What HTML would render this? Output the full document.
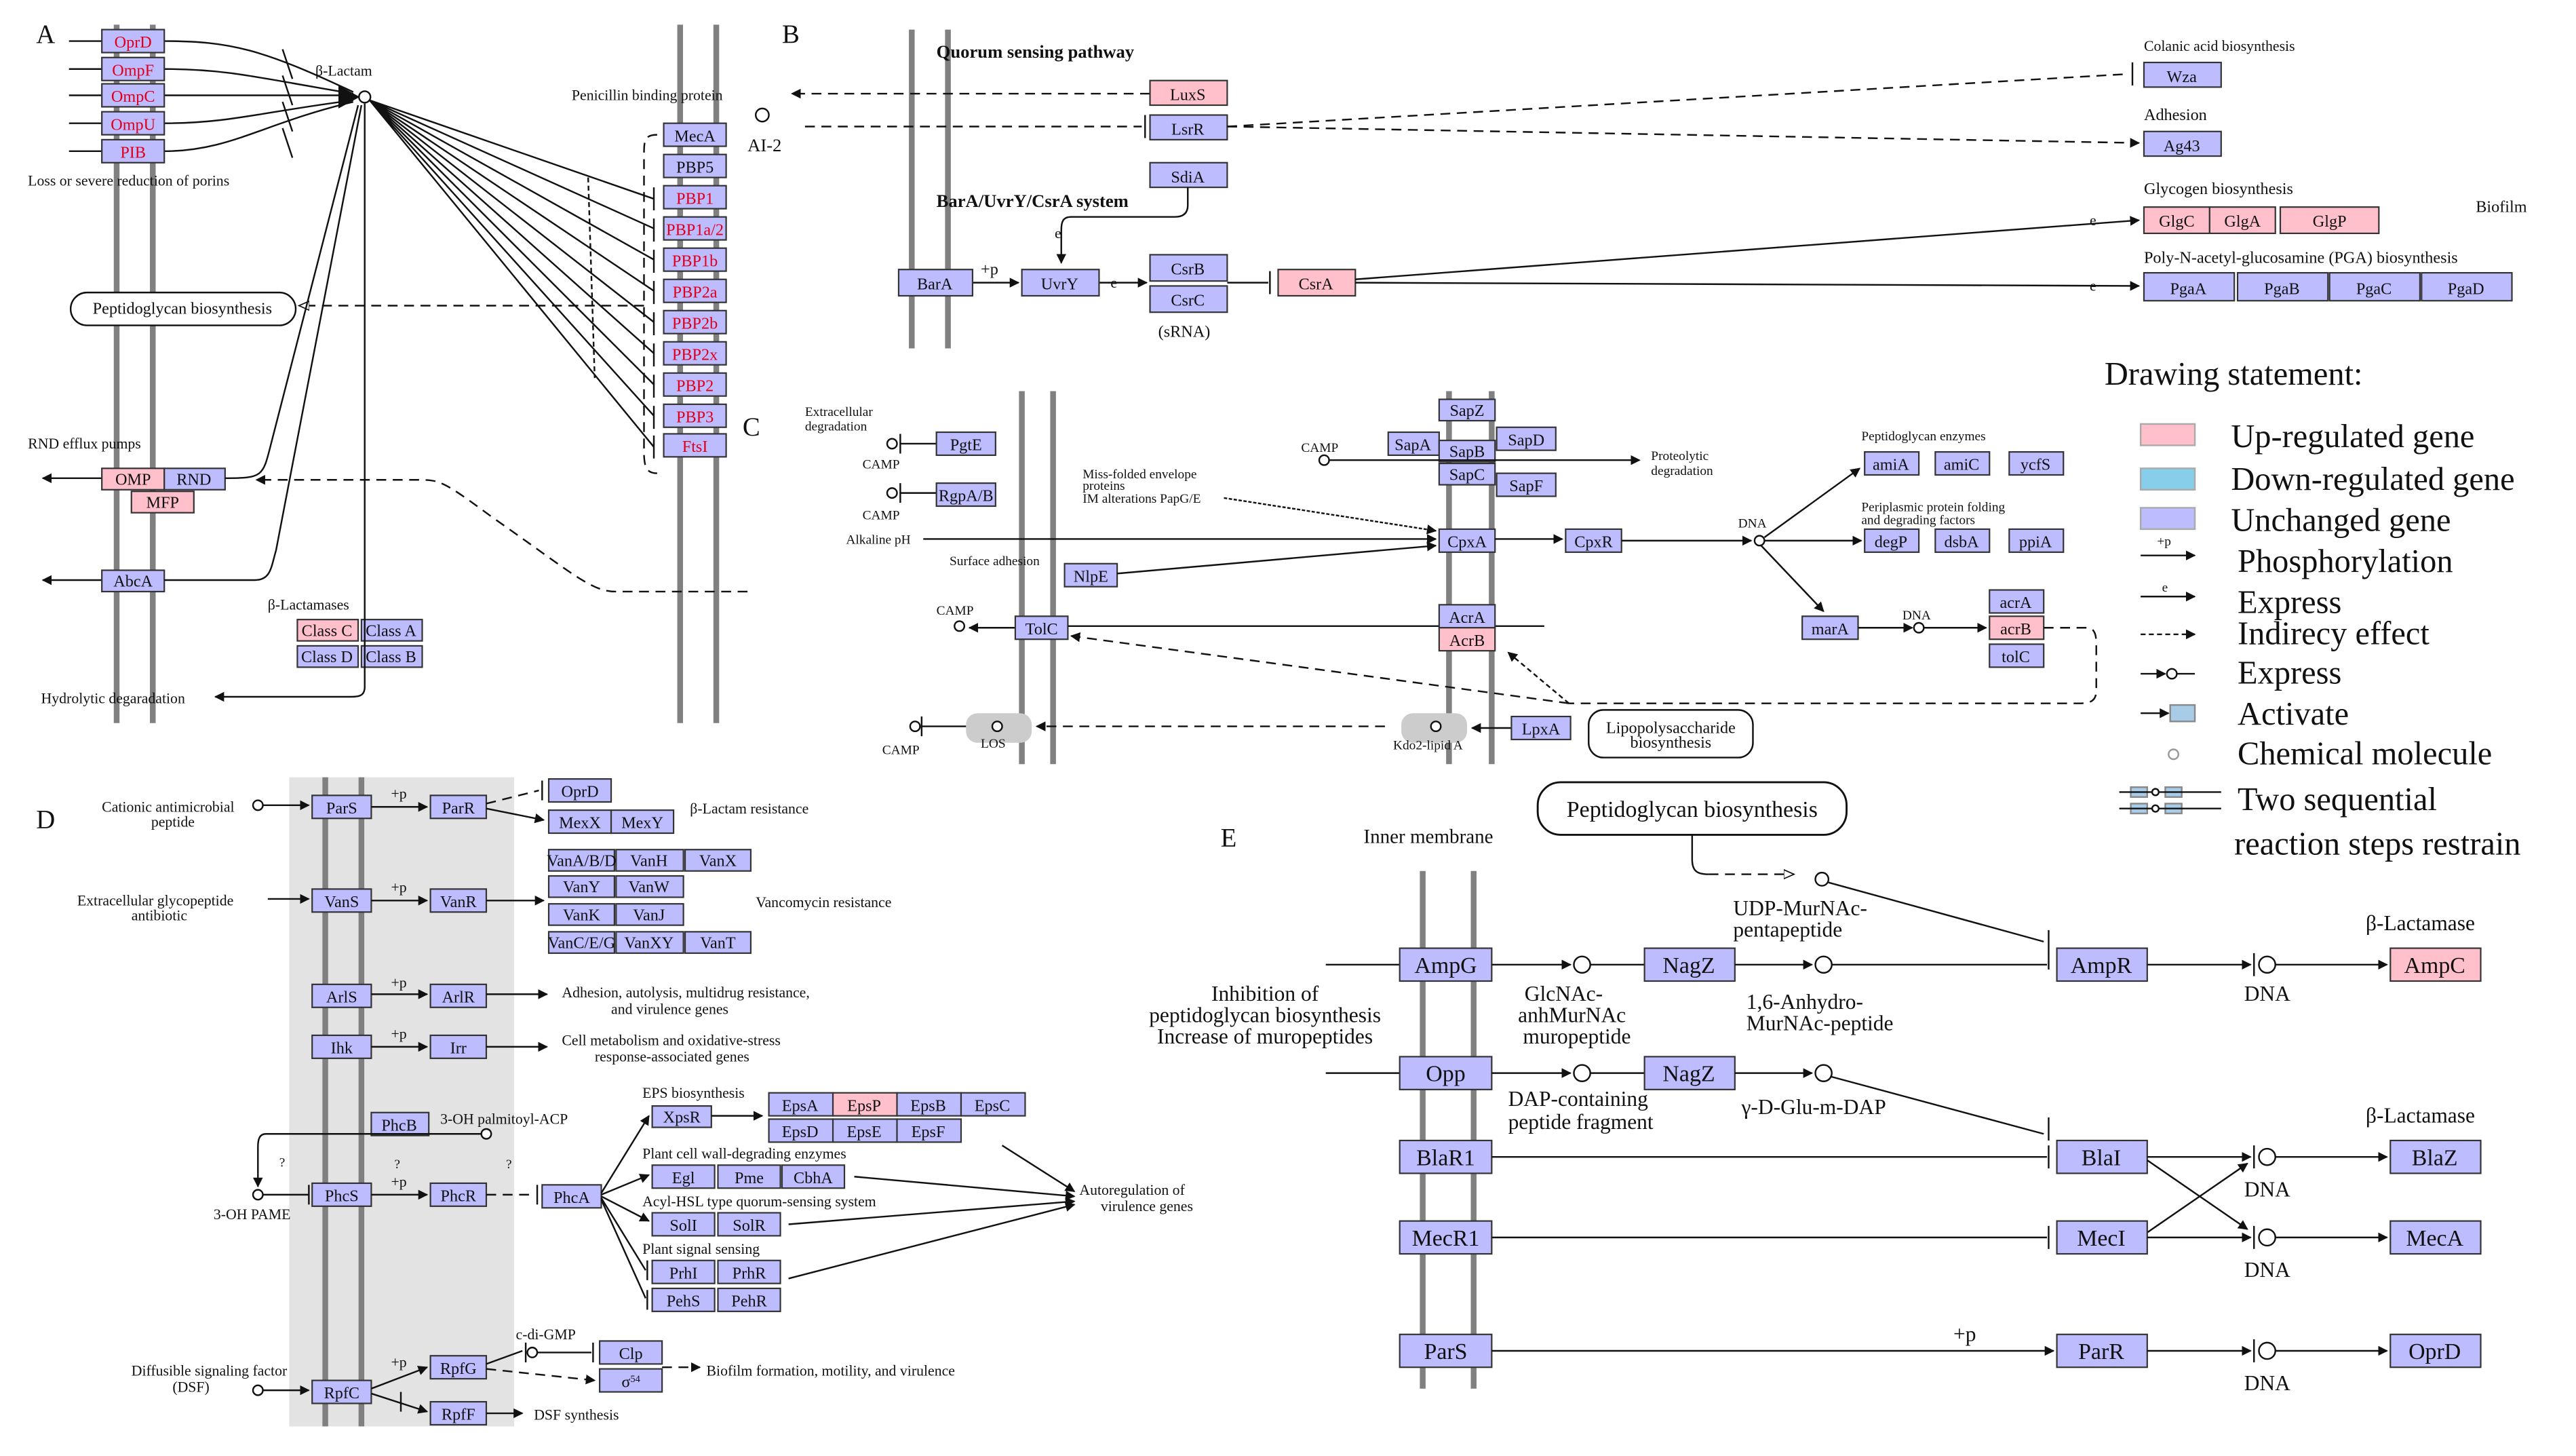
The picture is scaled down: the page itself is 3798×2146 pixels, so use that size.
<!DOCTYPE html>
<html><head><meta charset="utf-8"><style>
html,body{margin:0;padding:0;background:#fff}
svg{display:block}
text{font-family:"Liberation Serif",serif;fill:#111}
.b{fill:#bcbcff;stroke:#333;stroke-width:.9}
.p{fill:#ffc0cb;stroke:#333;stroke-width:.9}
.m{stroke:#808080;stroke-width:3.5;fill:none}
.l{stroke:#111;stroke-width:1;fill:none}
.d{stroke:#111;stroke-width:1;fill:none;stroke-dasharray:6 4}
.t{font-size:10px;text-anchor:middle}
.r{fill:#e0001a}
.s{font-size:9px}
.e{font-size:14px;text-anchor:middle}
.g{font-size:20px}
</style></head><body>
<svg width="3798" height="2146" viewBox="0 0 1568 886" preserveAspectRatio="none" xmlns="http://www.w3.org/2000/svg">
<defs>
<marker id="a" viewBox="0 0 10 10" refX="9" refY="5" markerWidth="6" markerHeight="6" orient="auto-start-reverse"><path d="M0,0L10,5L0,10z" fill="#111"/></marker>
<marker id="o" viewBox="0 0 10 10" refX="9" refY="5" markerWidth="7" markerHeight="7" orient="auto"><path d="M0,1L9,5L0,9z" fill="#fff" stroke="#111"/></marker>
</defs>

<!-- ===== PANEL A ===== -->
<text x="22" y="26" font-size="16">A</text>
<line class="m" x1="71" y1="15" x2="71" y2="440"/><line class="m" x1="93" y1="15" x2="93" y2="440"/>
<line class="m" x1="414" y1="15" x2="414" y2="440"/><line class="m" x1="436" y1="15" x2="436" y2="440"/>
<g class="l">
<path d="M42,25H62M100,25C140,25 160,30 215,56"/>
<path d="M42,42H62M100,42C140,42 160,48 215,57"/>
<path d="M42,58H62M100,58H213"/>
<path d="M42,75H62M100,75C140,75 160,68 215,61"/>
<path d="M42,92H62M100,92C140,92 160,75 215,62"/>
<path d="M172,30l6,18M172,46l6,18M172,62l6,18M172,78l6,18"/>
</g>
<path d="M206,52L219,59L206,66z" fill="#111"/>
<circle cx="222" cy="59" r="3.5" fill="#fff" stroke="#111"/>
<text x="192" y="46" class="s">β-Lactam</text>
<rect class="b" x="62" y="18" width="38" height="14"/><text class="t r" x="81" y="29">OprD</text>
<rect class="b" x="62" y="35" width="38" height="14"/><text class="t r" x="81" y="46">OmpF</text>
<rect class="b" x="62" y="51" width="38" height="14"/><text class="t r" x="81" y="62">OmpC</text>
<rect class="b" x="62" y="68" width="38" height="14"/><text class="t r" x="81" y="79">OmpU</text>
<rect class="b" x="62" y="85" width="38" height="14"/><text class="t r" x="81" y="96">PIB</text>
<text x="17" y="113" class="s">Loss or severe reduction of porins</text>
<text x="348" y="61" class="s">Penicillin binding protein</text>
<path class="d" d="M400,82C392,82 392,86 392,95V275C392,285 394,288 400,288"/>
<g class="l">
<path d="M225,61L398,139M225,61L398,158M225,61L398,177M225,61L398,196M225,61L398,215M225,61L398,234M225,61L398,253M225,61L398,272M225,61L398,121"/>
<path d="M398,114v14M398,133v14M398,152v14M398,171v14M398,190v14M398,209v14M398,228v14M398,247v14M398,265v14"/>
<path d="M358,108l4,122" stroke-dasharray="3 2"/>
</g>
<rect class="b" x="404" y="75" width="38" height="14"/><text class="t" x="423" y="86">MecA</text>
<rect class="b" x="404" y="94" width="38" height="14"/><text class="t" x="423" y="105">PBP5</text>
<rect class="b" x="404" y="113" width="38" height="14"/><text class="t r" x="423" y="124">PBP1</text>
<rect class="b" x="404" y="132" width="38" height="14"/><text class="t r" x="423" y="143">PBP1a/2</text>
<rect class="b" x="404" y="151" width="38" height="14"/><text class="t r" x="423" y="162">PBP1b</text>
<rect class="b" x="404" y="170" width="38" height="14"/><text class="t r" x="423" y="181">PBP2a</text>
<rect class="b" x="404" y="189" width="38" height="14"/><text class="t r" x="423" y="200">PBP2b</text>
<rect class="b" x="404" y="208" width="38" height="14"/><text class="t r" x="423" y="219">PBP2x</text>
<rect class="b" x="404" y="227" width="38" height="14"/><text class="t r" x="423" y="238">PBP2</text>
<rect class="b" x="404" y="246" width="38" height="14"/><text class="t r" x="423" y="257">PBP3</text>
<rect class="b" x="404" y="264" width="38" height="14"/><text class="t r" x="423" y="275">FtsI</text>
<rect x="43" y="178" width="137" height="20" rx="10" fill="#fff" stroke="#111"/>
<text x="111" y="191" class="t" font-size="9">Peptidoglycan biosynthesis</text>
<path class="d" d="M392,186H182" marker-end="url(#o)"/>
<text x="17" y="273" class="s">RND efflux pumps</text>
<path class="l" d="M62,291H26" marker-end="url(#a)"/>
<rect class="p" x="62" y="285" width="38" height="13"/><text class="t" x="81" y="295">OMP</text>
<rect class="b" x="100" y="285" width="37" height="13"/><text class="t" x="118" y="295">RND</text>
<rect class="p" x="80" y="299" width="38" height="13"/><text class="t" x="99" y="309">MFP</text>
<path class="l" d="M137,291C160,291 160,290 165,270L218,64"/>
<path class="l" d="M62,353H26" marker-end="url(#a)"/>
<rect class="b" x="62" y="347" width="38" height="13"/><text class="t" x="81" y="357">AbcA</text>
<path class="l" d="M100,353H155C165,353 165,345 168,335L220,64"/>
<path class="d" d="M455,360H375C360,360 350,350 300,315C270,293 268,292 255,292H156" marker-end="url(#a)"/>
<text x="163" y="371" class="s">β-Lactamases</text>
<rect class="p" x="181" y="377" width="37" height="13"/><text class="t" x="199" y="387">Class C</text>
<rect class="b" x="220" y="377" width="37" height="13"/><text class="t" x="238" y="387">Class A</text>
<rect class="b" x="181" y="393" width="37" height="13"/><text class="t" x="199" y="403">Class D</text>
<rect class="b" x="220" y="393" width="37" height="13"/><text class="t" x="238" y="403">Class B</text>
<path class="l" d="M222,63V418C222,424 218,424 212,424H131" marker-end="url(#a)"/>
<text x="25" y="428" class="s">Hydrolytic degaradation</text>

<!-- ===== PANEL B ===== -->
<text x="476" y="26" font-size="16">B</text>
<line class="m" x1="555" y1="18" x2="555" y2="212"/><line class="m" x1="577" y1="18" x2="577" y2="212"/>
<text x="570" y="35" font-size="11" font-weight="bold">Quorum sensing pathway</text>
<circle cx="464" cy="70" r="4" fill="#fff" stroke="#111"/>
<text x="455" y="92" font-size="11">AI-2</text>
<path class="d" d="M700,57H482" marker-end="url(#a)"/>
<path class="d" d="M490,77H695"/><path class="l" d="M697,70v14"/>
<rect class="p" x="700" y="49" width="47" height="15"/><text class="t" x="723" y="61">LuxS</text>
<rect class="b" x="700" y="70" width="47" height="15"/><text class="t" x="723" y="82">LsrR</text>
<rect class="b" x="700" y="99" width="47" height="15"/><text class="t" x="723" y="111">SdiA</text>
<path class="d" d="M747,77L1296,45"/><path class="l" d="M1298,38v14"/>
<path class="d" d="M747,77L1302,87" marker-end="url(#a)"/>
<text x="1305" y="31" class="s" font-size="10">Colanic acid biosynthesis</text>
<rect class="b" x="1305" y="38" width="47" height="15"/><text class="t" x="1328" y="50">Wza</text>
<text x="1305" y="73" font-size="10">Adhesion</text>
<rect class="b" x="1305" y="80" width="47" height="15"/><text class="t" x="1328" y="92">Ag43</text>
<text x="1305" y="118" font-size="10">Glycogen biosynthesis</text>
<rect class="p" x="1305" y="126" width="40" height="16"/><text class="t" x="1325" y="138">GlgC</text>
<rect class="p" x="1345" y="126" width="40" height="16"/><text class="t" x="1365" y="138">GlgA</text>
<rect class="p" x="1388" y="126" width="60" height="16"/><text class="t" x="1418" y="138">GlgP</text>
<text x="1507" y="129" font-size="10">Biofilm</text>
<text x="1305" y="160" font-size="10">Poly-N-acetyl-glucosamine (PGA) biosynthesis</text>
<rect class="b" x="1305" y="166" width="55" height="17"/><text class="t" x="1332" y="179">PgaA</text>
<rect class="b" x="1362" y="166" width="55" height="17"/><text class="t" x="1389" y="179">PgaB</text>
<rect class="b" x="1418" y="166" width="55" height="17"/><text class="t" x="1445" y="179">PgaC</text>
<rect class="b" x="1474" y="166" width="55" height="17"/><text class="t" x="1501" y="179">PgaD</text>
<text x="570" y="126" font-size="11" font-weight="bold">BarA/UvrY/CsrA system</text>
<path class="l" d="M723,114V125C723,130 720,132 715,132H652C647,132 646,135 646,140V160" marker-end="url(#a)"/>
<text x="642" y="145" font-size="9">e</text>
<path class="l" d="M592,172H620" marker-end="url(#a)"/><text x="597" y="167" font-size="10">+p</text>
<path class="l" d="M669,172H698" marker-end="url(#a)"/><text x="676" y="175" font-size="9">e</text>
<rect class="b" x="547" y="164" width="45" height="16"/><text class="t" x="569" y="176">BarA</text>
<rect class="b" x="622" y="164" width="47" height="16"/><text class="t" x="645" y="176">UvrY</text>
<rect class="b" x="700" y="155" width="47" height="16"/><text class="t" x="723" y="167">CsrB</text>
<rect class="b" x="700" y="174" width="47" height="16"/><text class="t" x="723" y="186">CsrC</text>
<text x="705" y="205" font-size="10">(sRNA)</text>
<path class="l" d="M747,172H772M773,165v14"/>
<rect class="p" x="778" y="164" width="47" height="16"/><text class="t" x="801" y="176">CsrA</text>
<path class="l" d="M825,170L1302,134" marker-end="url(#a)"/><text x="1272" y="137" font-size="9">e</text>
<path class="l" d="M825,172L1302,174" marker-end="url(#a)"/><text x="1272" y="177" font-size="9">e</text>

<!-- Legend -->
<text x="1281" y="234" class="g">Drawing statement:</text>
<rect x="1303" y="258" width="33" height="13" fill="#ffc0cb" stroke="#aaa"/><text x="1358" y="272" class="g">Up-regulated gene</text>
<rect x="1303" y="285" width="33" height="13" fill="#87ceeb" stroke="#aaa"/><text x="1358" y="298" class="g">Down-regulated gene</text>
<rect x="1303" y="309" width="33" height="13" fill="#bcbcff" stroke="#aaa"/><text x="1358" y="323" class="g">Unchanged gene</text>
<text x="1313" y="332" font-size="8">+p</text><path class="l" d="M1303,338H1336" marker-end="url(#a)"/><text x="1362" y="348" class="g">Phosphorylation</text>
<text x="1316" y="360" font-size="8">e</text><path class="l" d="M1303,363H1336" marker-end="url(#a)"/><text x="1362" y="373" class="g">Express</text>
<path class="l" d="M1303,386H1336" stroke-dasharray="3 2" marker-end="url(#a)"/><text x="1362" y="392" class="g">Indirecy effect</text>
<path class="l" d="M1303,410H1318" marker-end="url(#a)"/><circle cx="1322" cy="410" r="3" fill="#fff" stroke="#111"/><path class="l" d="M1325,410H1336"/><text x="1362" y="416" class="g">Express</text>
<path class="l" d="M1303,434H1320" marker-end="url(#a)"/><rect x="1321" y="429" width="15" height="10" fill="#a8cce8" stroke="#888"/><text x="1362" y="441" class="g">Activate</text>
<circle cx="1323" cy="459" r="3" fill="#fff" stroke="#999"/><text x="1362" y="465" class="g">Chemical molecule</text>
<g>
<rect x="1297" y="479" width="10" height="6" fill="#a8cce8" stroke="#888"/><rect x="1318" y="479" width="10" height="6" fill="#a8cce8" stroke="#888"/>
<rect x="1297" y="489" width="10" height="6" fill="#a8cce8" stroke="#888"/><rect x="1318" y="489" width="10" height="6" fill="#a8cce8" stroke="#888"/>
<path class="l" d="M1290,482H1352M1290,492H1352"/><circle cx="1312" cy="482" r="2" fill="#fff" stroke="#111"/><circle cx="1312" cy="492" r="2" fill="#fff" stroke="#111"/>
</g>
<text x="1362" y="493" class="g">Two sequential</text>
<text x="1360" y="520" class="g">reaction steps restrain</text>

<!-- ===== PANEL C ===== -->
<text x="452" y="265" font-size="16">C</text>
<line class="m" x1="622" y1="238" x2="622" y2="465" stroke-width="2.5"/><line class="m" x1="641" y1="238" x2="641" y2="465" stroke-width="2.5"/>
<line class="m" x1="882" y1="238" x2="882" y2="465" stroke-width="2.5"/><line class="m" x1="908" y1="238" x2="908" y2="465" stroke-width="2.5"/>
<text x="490" y="253" font-size="8">Extracellular</text><text x="490" y="262" font-size="8">degradation</text>
<circle cx="543" cy="270" r="3" fill="#fff" stroke="#111"/><path class="l" d="M548,264v12M548,270H570"/>
<rect class="b" x="570" y="263" width="36" height="14"/><text class="t" x="588" y="274" font-size="9">PgtE</text>
<text x="525" y="285" font-size="8">CAMP</text>
<circle cx="543" cy="300" r="3" fill="#fff" stroke="#111"/><path class="l" d="M548,294v12M548,300H570"/>
<rect class="b" x="570" y="294" width="36" height="14"/><text class="t" x="588" y="305" font-size="9">RgpA/B</text>
<text x="525" y="316" font-size="8">CAMP</text>
<text x="515" y="331" font-size="8">Alkaline pH</text>
<path class="l" d="M562,328H874" marker-end="url(#a)"/>
<text x="659" y="291" font-size="8">Miss-folded envelope</text><text x="659" y="298" font-size="8">proteins</text><text x="659" y="306" font-size="8">IM alterations PapG/E</text>
<path class="l" d="M745,303L874,323" stroke-dasharray="2 1" marker-end="url(#a)"/>
<text x="578" y="344" font-size="8">Surface adhesion</text>
<rect class="b" x="648" y="343" width="32" height="14"/><text class="t" x="664" y="354" font-size="9">NlpE</text>
<path class="l" d="M680,349L874,332" marker-end="url(#a)"/>
<rect class="b" x="876" y="243" width="34" height="13"/><text class="t" x="893" y="253" font-size="9">SapZ</text>
<rect class="b" x="845" y="263" width="31" height="14"/><text class="t" x="860" y="274" font-size="9">SapA</text>
<rect class="b" x="876" y="268" width="34" height="13"/><text class="t" x="893" y="278" font-size="9">SapB</text>
<rect class="b" x="911" y="260" width="36" height="14"/><text class="t" x="929" y="271" font-size="9">SapD</text>
<rect class="b" x="876" y="282" width="34" height="13"/><text class="t" x="893" y="292" font-size="9">SapC</text>
<rect class="b" x="911" y="288" width="36" height="14"/><text class="t" x="929" y="299" font-size="9">SapF</text>
<text x="792" y="275" font-size="8">CAMP</text><circle cx="806" cy="280" r="3" fill="#fff" stroke="#111"/>
<path class="l" d="M809,280H998" marker-end="url(#a)"/>
<text x="1005" y="280" font-size="8">Proteolytic</text><text x="1005" y="289" font-size="8">degradation</text>
<rect class="b" x="876" y="322" width="34" height="14"/><text class="t" x="893" y="333" font-size="9">CpxA</text>
<path class="l" d="M910,328H951" marker-end="url(#a)"/>
<rect class="b" x="953" y="322" width="34" height="14"/><text class="t" x="970" y="333" font-size="9">CpxR</text>
<path class="l" d="M987,329H1066" marker-end="url(#a)"/>
<text x="1058" y="321" font-size="8">DNA</text><circle cx="1071" cy="329" r="3" fill="#fff" stroke="#111"/>
<path class="l" d="M1074,327L1132,285" marker-end="url(#a)"/>
<path class="l" d="M1074,329H1133" marker-end="url(#a)"/>
<path class="l" d="M1072,332L1110,372" marker-end="url(#a)"/>
<text x="1133" y="268" font-size="8">Peptidoglycan enzymes</text>
<rect class="b" x="1135" y="275" width="33" height="14"/><text class="t" x="1151" y="286" font-size="9">amiA</text>
<rect class="b" x="1178" y="275" width="33" height="14"/><text class="t" x="1194" y="286" font-size="9">amiC</text>
<rect class="b" x="1223" y="275" width="33" height="14"/><text class="t" x="1239" y="286" font-size="9">ycfS</text>
<text x="1133" y="311" font-size="8">Periplasmic protein folding</text><text x="1133" y="319" font-size="8">and degrading factors</text>
<rect class="b" x="1135" y="322" width="33" height="14"/><text class="t" x="1151" y="333" font-size="9">degP</text>
<rect class="b" x="1178" y="322" width="33" height="14"/><text class="t" x="1194" y="333" font-size="9">dsbA</text>
<rect class="b" x="1223" y="322" width="33" height="14"/><text class="t" x="1239" y="333" font-size="9">ppiA</text>
<rect class="b" x="1097" y="375" width="34" height="14"/><text class="t" x="1114" y="386" font-size="9">marA</text>
<path class="l" d="M1131,382H1164" marker-end="url(#a)"/>
<text x="1158" y="377" font-size="8">DNA</text><circle cx="1168" cy="382" r="3" fill="#fff" stroke="#111"/>
<path class="l" d="M1171,382H1209" marker-end="url(#a)"/>
<rect class="b" x="1211" y="359" width="33" height="14"/><text class="t" x="1227" y="370" font-size="9">acrA</text>
<rect class="p" x="1211" y="375" width="33" height="14"/><text class="t" x="1227" y="386" font-size="9">acrB</text>
<rect class="b" x="1211" y="392" width="33" height="14"/><text class="t" x="1227" y="403" font-size="9">tolC</text>
<path class="d" d="M1244,382H1270C1275,382 1276,386 1276,392V420C1276,427 1272,428 1265,428H955" stroke-dasharray="5 3"/>
<path class="d" d="M955,428L652,387" stroke-dasharray="5 3" marker-end="url(#a)"/>
<path class="l" d="M955,428L918,397" stroke-dasharray="3 2" marker-end="url(#a)"/>
<text x="570" y="374" font-size="8">CAMP</text><circle cx="584" cy="381" r="3" fill="#fff" stroke="#111"/>
<path class="l" d="M618,382H590" marker-end="url(#a)"/>
<rect class="b" x="618" y="375" width="32" height="14"/><text class="t" x="634" y="386" font-size="9">TolC</text>
<path class="l" d="M650,381H940"/>
<rect class="b" x="876" y="368" width="34" height="14"/><text class="t" x="893" y="379" font-size="9">AcrA</text>
<rect class="p" x="876" y="382" width="34" height="14"/><text class="t" x="893" y="393" font-size="9">AcrB</text>
<rect x="588" y="434" width="40" height="18" rx="7" fill="#ccc"/><circle cx="607" cy="442" r="3" fill="#fff" stroke="#111"/><text x="597" y="455" font-size="8">LOS</text>
<rect x="853" y="434" width="40" height="18" rx="7" fill="#ccc"/><circle cx="874" cy="442" r="3" fill="#fff" stroke="#111"/><text x="848" y="456" font-size="8">Kdo2-lipid A</text>
<path class="d" d="M843,442H631" stroke-dasharray="5 3" marker-end="url(#a)"/>
<circle cx="557" cy="442" r="3" fill="#fff" stroke="#111"/><path class="l" d="M561,436v12M561,442H588"/>
<text x="537" y="459" font-size="8">CAMP</text>
<path class="l" d="M920,443H896" marker-end="url(#a)"/>
<rect class="b" x="920" y="436" width="36" height="14"/><text class="t" x="938" y="447" font-size="9">LpxA</text>
<rect x="967" y="432" width="100" height="29" rx="9" fill="#fff" stroke="#111"/>
<text x="1017" y="446" class="t" font-size="8">Lipopolysaccharide</text><text x="1017" y="455" class="t" font-size="8">biosynthesis</text>

<!-- ===== PANEL D ===== -->
<text x="22" y="504" font-size="16">D</text>
<rect x="176" y="473" width="137" height="395" fill="#e3e3e3"/>
<line class="m" x1="198" y1="473" x2="198" y2="868"/><line class="m" x1="220" y1="473" x2="220" y2="868"/>
<g font-size="9">
<text x="62" y="494">Cationic antimicrobial</text><text x="92" y="503">peptide</text>
<circle cx="157" cy="490" r="3" fill="#fff" stroke="#111"/><path class="l" d="M160,490H188" marker-end="url(#a)"/>
<rect class="b" x="190" y="484" width="36" height="14"/><text class="t" x="208" y="495" font-size="9">ParS</text>
<path class="l" d="M226,491H260" marker-end="url(#a)"/><text x="238" y="486">+p</text>
<rect class="b" x="262" y="484" width="34" height="14"/><text class="t" x="279" y="495" font-size="9">ParR</text>
<path class="d" d="M296,489L328,481" stroke-dasharray="3 2"/><path class="l" d="M330,475v12"/>
<path class="l" d="M296,492L331,499" marker-end="url(#a)"/>
<rect class="b" x="334" y="474" width="38" height="14"/><text class="t" x="353" y="485" font-size="9">OprD</text>
<rect class="b" x="334" y="493" width="38" height="14"/><text class="t" x="353" y="504" font-size="9">MexX</text>
<rect class="b" x="372" y="493" width="38" height="14"/><text class="t" x="391" y="504" font-size="9">MexY</text>
<text x="420" y="495">β-Lactam resistance</text>
<text x="47" y="551">Extracellular glycopeptide</text><text x="80" y="560">antibiotic</text>
<path class="l" d="M163,547H188" marker-end="url(#a)"/>
<rect class="b" x="190" y="541" width="36" height="14"/><text class="t" x="208" y="552" font-size="9">VanS</text>
<path class="l" d="M226,548H260" marker-end="url(#a)"/><text x="238" y="543">+p</text>
<rect class="b" x="262" y="541" width="34" height="14"/><text class="t" x="279" y="552" font-size="9">VanR</text>
<path class="l" d="M296,548H331" marker-end="url(#a)"/>
<rect class="b" x="334" y="517" width="40" height="13"/><text class="t" x="354" y="527" font-size="8">VanA/B/D</text>
<rect class="b" x="375" y="517" width="41" height="13"/><text class="t" x="395" y="527" font-size="9">VanH</text>
<rect class="b" x="417" y="517" width="40" height="13"/><text class="t" x="437" y="527" font-size="9">VanX</text>
<rect class="b" x="334" y="533" width="40" height="13"/><text class="t" x="354" y="543" font-size="9">VanY</text>
<rect class="b" x="375" y="533" width="41" height="13"/><text class="t" x="395" y="543" font-size="9">VanW</text>
<rect class="b" x="334" y="550" width="40" height="13"/><text class="t" x="354" y="560" font-size="9">VanK</text>
<rect class="b" x="375" y="550" width="41" height="13"/><text class="t" x="395" y="560" font-size="9">VanJ</text>
<rect class="b" x="334" y="567" width="40" height="13"/><text class="t" x="354" y="577" font-size="8">VanC/E/G</text>
<rect class="b" x="375" y="567" width="41" height="13"/><text class="t" x="395" y="577" font-size="9">VanXY</text>
<rect class="b" x="417" y="567" width="40" height="13"/><text class="t" x="437" y="577" font-size="9">VanT</text>
<text x="460" y="552">Vancomycin resistance</text>
<rect class="b" x="190" y="599" width="36" height="14"/><text class="t" x="208" y="610" font-size="9">ArlS</text>
<path class="l" d="M226,605H260" marker-end="url(#a)"/><text x="238" y="601">+p</text>
<rect class="b" x="262" y="599" width="34" height="14"/><text class="t" x="279" y="610" font-size="9">ArlR</text>
<path class="l" d="M296,605H333" marker-end="url(#a)"/>
<text x="342" y="607">Adhesion, autolysis, multidrug resistance,</text><text x="372" y="617">and virulence genes</text>
<rect class="b" x="190" y="630" width="36" height="14"/><text class="t" x="208" y="641" font-size="9">Ihk</text>
<path class="l" d="M226,637H260" marker-end="url(#a)"/><text x="238" y="632">+p</text>
<rect class="b" x="262" y="630" width="34" height="14"/><text class="t" x="279" y="641" font-size="9">Irr</text>
<path class="l" d="M296,637H333" marker-end="url(#a)"/>
<text x="342" y="636">Cell metabolism and oxidative-stress</text><text x="362" y="646">response-associated genes</text>
<rect class="b" x="226" y="677" width="35" height="14"/><text class="t" x="243" y="688" font-size="9">PhcB</text>
<text x="268" y="684">3-OH palmitoyl-ACP</text>
<circle cx="296" cy="690" r="3" fill="#fff" stroke="#111"/>
<path class="l" d="M293,690H162C158,690 157,693 157,698V722" marker-end="url(#a)"/>
<circle cx="157" cy="727" r="3" fill="#fff" stroke="#111"/><text x="130" y="742">3-OH PAME</text>
<path class="l" d="M160,727H188M188,721v12"/><text x="170" y="710" font-size="8">?</text>
<rect class="b" x="190" y="720" width="36" height="14"/><text class="t" x="208" y="731" font-size="9">PhcS</text>
<path class="l" d="M226,727H260" marker-end="url(#a)"/><text x="238" y="722">+p</text><text x="240" y="711" font-size="8">?</text>
<rect class="b" x="262" y="720" width="34" height="14"/><text class="t" x="279" y="731" font-size="9">PhcR</text>
<path class="d" d="M296,727H325" stroke-dasharray="4 3"/><path class="l" d="M327,721v12"/><text x="308" y="711" font-size="8">?</text>
<rect class="b" x="330" y="721" width="36" height="14"/><text class="t" x="348" y="732" font-size="9">PhcA</text>
<path class="l" d="M366,726L395,679" marker-end="url(#a)"/>
<path class="l" d="M366,727L395,715" marker-end="url(#a)"/>
<path class="l" d="M366,728L395,743" marker-end="url(#a)"/>
<path class="l" d="M366,729L393,773M366,730L393,790"/>
<text x="391" y="668">EPS biosynthesis</text>
<rect class="b" x="397" y="673" width="36" height="13"/><text class="t" x="415" y="683" font-size="9">XpsR</text>
<path class="l" d="M433,679H464" marker-end="url(#a)"/>
<rect class="b" x="468" y="665" width="39" height="14"/><text class="t" x="487" y="676" font-size="9">EpsA</text>
<rect class="p" x="507" y="665" width="39" height="14"/><text class="t" x="526" y="676" font-size="9">EpsP</text>
<rect class="b" x="546" y="665" width="39" height="14"/><text class="t" x="565" y="676" font-size="9">EpsB</text>
<rect class="b" x="585" y="665" width="39" height="14"/><text class="t" x="604" y="676" font-size="9">EpsC</text>
<rect class="b" x="468" y="681" width="39" height="14"/><text class="t" x="487" y="692" font-size="9">EpsD</text>
<rect class="b" x="507" y="681" width="39" height="14"/><text class="t" x="526" y="692" font-size="9">EpsE</text>
<rect class="b" x="546" y="681" width="39" height="14"/><text class="t" x="565" y="692" font-size="9">EpsF</text>
<text x="391" y="705">Plant cell wall-degrading enzymes</text>
<rect class="b" x="397" y="709" width="38" height="14"/><text class="t" x="416" y="720" font-size="9">Egl</text>
<rect class="b" x="437" y="709" width="38" height="14"/><text class="t" x="456" y="720" font-size="9">Pme</text>
<rect class="b" x="476" y="709" width="38" height="14"/><text class="t" x="495" y="720" font-size="9">CbhA</text>
<text x="391" y="734">Acyl-HSL type quorum-sensing system</text>
<rect class="b" x="397" y="738" width="38" height="14"/><text class="t" x="416" y="749" font-size="9">SolI</text>
<rect class="b" x="437" y="738" width="38" height="14"/><text class="t" x="456" y="749" font-size="9">SolR</text>
<text x="391" y="763">Plant signal sensing</text>
<rect class="b" x="397" y="767" width="38" height="14"/><text class="t" x="416" y="778" font-size="9">PrhI</text>
<rect class="b" x="437" y="767" width="38" height="14"/><text class="t" x="456" y="778" font-size="9">PrhR</text>
<rect class="b" x="397" y="784" width="38" height="14"/><text class="t" x="416" y="795" font-size="9">PehS</text>
<rect class="b" x="437" y="784" width="38" height="14"/><text class="t" x="456" y="795" font-size="9">PehR</text>
<path class="l" d="M394,767v12M394,785v12"/>
<path class="l" d="M610,697L654,725" marker-end="url(#a)"/>
<path class="l" d="M520,716L654,728" marker-end="url(#a)"/>
<path class="l" d="M480,745L654,731" marker-end="url(#a)"/>
<path class="l" d="M480,778L654,733" marker-end="url(#a)"/>
<text x="657" y="727">Autoregulation of</text><text x="670" y="737">virulence genes</text>
<text x="80" y="837">Diffusible signaling factor</text><text x="105" y="847">(DSF)</text>
<circle cx="157" cy="846" r="3" fill="#fff" stroke="#111"/><path class="l" d="M160,846H188" marker-end="url(#a)"/>
<rect class="b" x="190" y="840" width="36" height="14"/><text class="t" x="208" y="851" font-size="9">RpfC</text>
<path class="l" d="M226,845L260,832" marker-end="url(#a)"/><text x="238" y="832">+p</text>
<path class="l" d="M226,848L260,859" marker-end="url(#a)"/><path class="l" d="M244,847v12"/>
<rect class="b" x="262" y="825" width="34" height="14"/><text class="t" x="279" y="836" font-size="9">RpfG</text>
<rect class="b" x="262" y="853" width="34" height="14"/><text class="t" x="279" y="864" font-size="9">RpfF</text>
<path class="l" d="M296,860H318" marker-end="url(#a)"/><text x="325" y="864">DSF synthesis</text>
<path class="l" d="M296,830L318,822M320,817v12"/><text x="314" y="815">c-di-GMP</text>
<circle cx="324" cy="823" r="3" fill="#fff" stroke="#111"/><path class="l" d="M327,823H360M361,817v12"/>
<path class="d" d="M296,833L362,840" stroke-dasharray="3 2" marker-end="url(#a)"/>
<rect class="b" x="365" y="816" width="38" height="14"/><text class="t" x="384" y="827" font-size="9">Clp</text>
<rect class="b" x="365" y="833" width="38" height="14"/><text class="t" x="384" y="844" font-size="9">σ<tspan font-size="6" dy="-3">54</tspan></text>
<path class="d" d="M403,832H426" stroke-dasharray="3 2" marker-end="url(#a)"/>
<text x="430" y="837">Biofilm formation, motility, and virulence</text>
</g>

<!-- ===== PANEL E ===== -->
<text x="743" y="515" font-size="16">E</text>
<text x="830" y="513" font-size="12">Inner membrane</text>
<line class="m" x1="866" y1="530" x2="866" y2="845"/><line class="m" x1="897" y1="530" x2="897" y2="845"/>
<rect x="936" y="476" width="188" height="32" rx="14" fill="#fff" stroke="#111" stroke-width="1.2"/>
<text x="1030" y="497" class="e">Peptidoglycan biosynthesis</text>
<path class="l" d="M1030,508V523C1030,530 1033,532 1040,532"/><path class="d" d="M1040,532H1092" marker-end="url(#o)"/>
<circle cx="1109" cy="535" r="4" fill="#fff" stroke="#111"/>
<text x="1055" y="557" font-size="13">UDP-MurNAc-</text><text x="1055" y="570" font-size="13">pentapeptide</text>
<path class="l" d="M1113,537L1244,573M1247,566v24"/>
<path class="l" d="M807,587H852"/>
<rect class="b" x="852" y="577" width="56" height="20"/><text class="e" x="880" y="592">AmpG</text>
<path class="l" d="M908,587H956" marker-end="url(#a)"/><circle cx="963" cy="587" r="5" fill="#fff" stroke="#111"/><path class="l" d="M968,587H1001"/>
<rect class="b" x="1001" y="577" width="55" height="20"/><text class="e" x="1028" y="592">NagZ</text>
<path class="l" d="M1056,587H1103" marker-end="url(#a)"/><circle cx="1110" cy="587" r="5" fill="#fff" stroke="#111"/><path class="l" d="M1115,587H1246"/>
<rect class="b" x="1252" y="577" width="55" height="20"/><text class="e" x="1279" y="592">AmpR</text>
<path class="l" d="M1307,587H1370" marker-end="url(#a)"/><path class="l" d="M1372,580v14"/><circle cx="1380" cy="587" r="5" fill="#fff" stroke="#111"/>
<path class="l" d="M1385,587H1453" marker-end="url(#a)"/>
<rect class="p" x="1455" y="577" width="55" height="20"/><text class="e" x="1482" y="592">AmpC</text>
<text x="1440" y="566" font-size="13">β-Lactamase</text>
<text x="1366" y="609" font-size="13">DNA</text>
<text x="770" y="609" font-size="13" text-anchor="middle">Inhibition of</text>
<text x="770" y="622" font-size="13" text-anchor="middle">peptidoglycan biosynthesis</text>
<text x="770" y="635" font-size="13" text-anchor="middle">Increase of muropeptides</text>
<text x="928" y="609" font-size="13">GlcNAc-</text><text x="924" y="622" font-size="13">anhMurNAc</text><text x="927" y="635" font-size="13">muropeptide</text>
<text x="1063" y="614" font-size="13">1,6-Anhydro-</text><text x="1063" y="627" font-size="13">MurNAc-peptide</text>
<path class="l" d="M807,653H852"/>
<rect class="b" x="852" y="643" width="56" height="20"/><text class="e" x="880" y="658">Opp</text>
<path class="l" d="M908,653H956" marker-end="url(#a)"/><circle cx="963" cy="653" r="5" fill="#fff" stroke="#111"/><path class="l" d="M968,653H1001"/>
<rect class="b" x="1001" y="643" width="55" height="20"/><text class="e" x="1028" y="658">NagZ</text>
<path class="l" d="M1056,653H1103" marker-end="url(#a)"/><circle cx="1110" cy="653" r="5" fill="#fff" stroke="#111"/>
<path class="l" d="M1114,655L1244,690M1247,680v14"/>
<text x="918" y="673" font-size="13">DAP-containing</text><text x="918" y="687" font-size="13">peptide fragment</text>
<text x="1060" y="678" font-size="13">γ-D-Glu-m-DAP</text>
<rect class="b" x="852" y="694" width="56" height="20"/><text class="e" x="880" y="709">BlaR1</text>
<path class="l" d="M908,704H1246M1247,697v14"/>
<rect class="b" x="1252" y="694" width="55" height="20"/><text class="e" x="1279" y="709">BlaI</text>
<path class="l" d="M1307,704H1370" marker-end="url(#a)"/><path class="l" d="M1372,697v14"/><circle cx="1380" cy="704" r="5" fill="#fff" stroke="#111"/>
<path class="l" d="M1385,704H1453" marker-end="url(#a)"/>
<rect class="b" x="1455" y="694" width="55" height="20"/><text class="e" x="1482" y="709">BlaZ</text>
<text x="1440" y="683" font-size="13">β-Lactamase</text>
<text x="1366" y="728" font-size="13">DNA</text>
<path class="l" d="M1307,706L1368,748" marker-end="url(#a)"/>
<path class="l" d="M1307,750L1368,708" marker-end="url(#a)"/>
<rect class="b" x="852" y="743" width="56" height="20"/><text class="e" x="880" y="758">MecR1</text>
<path class="l" d="M908,753H1246M1247,746v14"/>
<rect class="b" x="1252" y="743" width="55" height="20"/><text class="e" x="1279" y="758">MecI</text>
<path class="l" d="M1307,753H1370" marker-end="url(#a)"/><path class="l" d="M1372,746v14"/><circle cx="1380" cy="753" r="5" fill="#fff" stroke="#111"/>
<path class="l" d="M1385,753H1453" marker-end="url(#a)"/>
<rect class="b" x="1455" y="743" width="55" height="20"/><text class="e" x="1482" y="758">MecA</text>
<text x="1366" y="777" font-size="13">DNA</text>
<rect class="b" x="852" y="812" width="56" height="20"/><text class="e" x="880" y="827">ParS</text>
<path class="l" d="M908,822H1250" marker-end="url(#a)"/><text x="1189" y="816" font-size="13">+p</text>
<rect class="b" x="1252" y="812" width="55" height="20"/><text class="e" x="1279" y="827">ParR</text>
<path class="l" d="M1307,822H1370" marker-end="url(#a)"/><path class="l" d="M1372,815v14"/><circle cx="1380" cy="822" r="5" fill="#fff" stroke="#111"/>
<path class="l" d="M1385,822H1453" marker-end="url(#a)"/>
<rect class="b" x="1455" y="812" width="55" height="20"/><text class="e" x="1482" y="827">OprD</text>
<text x="1366" y="846" font-size="13">DNA</text>
</svg>
</body></html>
